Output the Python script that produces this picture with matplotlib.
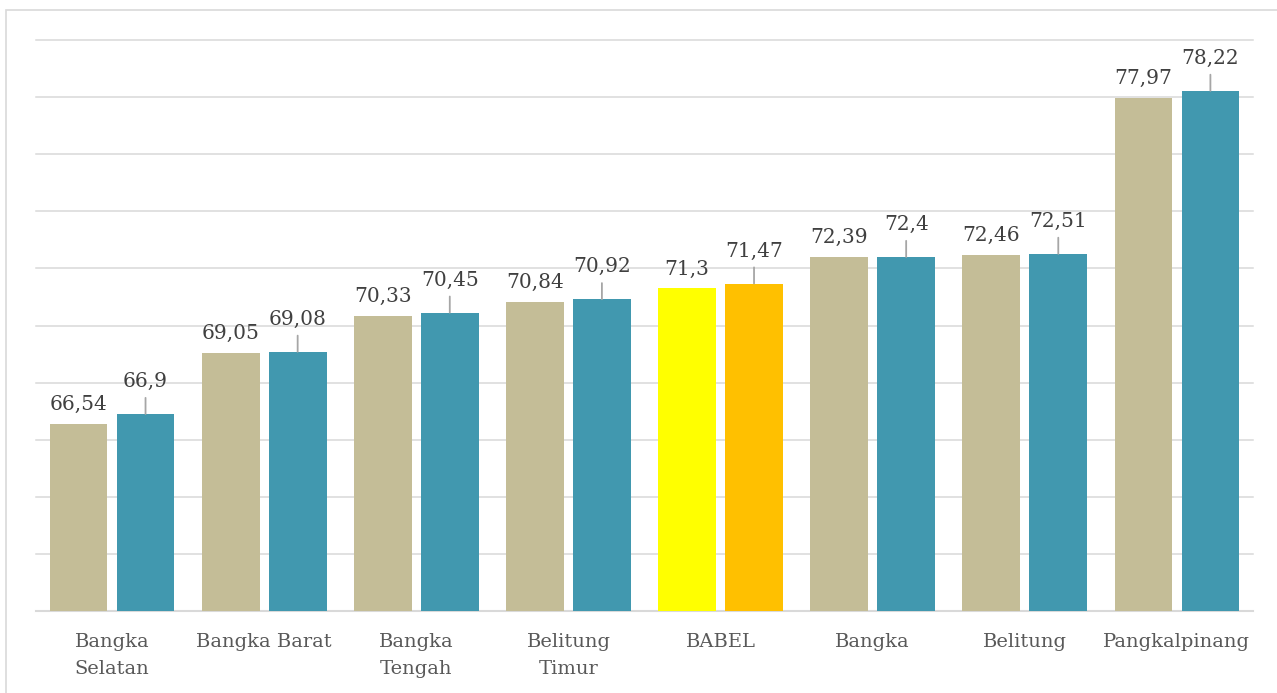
import numpy as np
import matplotlib
matplotlib.use("Agg")
import matplotlib.pyplot as plt
from matplotlib.patches import Rectangle

categories = ["Bangka\nSelatan", "Bangka Barat", "Bangka\nTengah", "Belitung\nTimur",
              "BABEL", "Bangka", "Belitung", "Pangkalpinang"]
series_a = [66.54, 69.05, 70.33, 70.84, 71.30, 72.39, 72.46, 77.97]
series_b = [66.90, 69.08, 70.45, 70.92, 71.47, 72.40, 72.51, 78.22]

tan, teal = "#C4BD97", "#4198AF"
colors_a = [tan] * 8
colors_b = [teal] * 8
colors_a[4] = "#FFFF00"
colors_b[4] = "#FFC000"

def fmt(v):
    s = ("%.2f" % v).rstrip("0").rstrip(".")
    return s.replace(".", ",")

plt.rcParams['font.family'] = ['DejaVu Serif']

fig = plt.figure(figsize=(12.77, 6.93), dpi=100)
ax = fig.add_axes([36 / 1277, 82 / 693, 1217 / 1277, 571 / 693])

# chart border
fig.patches.append(Rectangle((6 / 1277, -0.1), 1.2, 0.1 + 683 / 693, transform=fig.transFigure,
                             fill=False, edgecolor="#D9D9D9", linewidth=1.2))

x = np.arange(len(categories))
w = 0.38
off = 0.22
bars_a = ax.bar(x - off, series_a, w, color=colors_a, zorder=3)
bars_b = ax.bar(x + off, series_b, w, color=colors_b, zorder=3)

ax.set_ylim(60, 80)
ax.set_xlim(-0.5, len(categories) - 0.5)
ax.set_yticks(np.arange(60, 81, 2))
ax.yaxis.grid(True, color="#D9D9D9", linewidth=1.1, zorder=0)
for gl in ax.get_ygridlines():
    gl.set_clip_on(False)
ax.set_yticklabels([])
ax.tick_params(axis='y', length=0)
ax.tick_params(axis='x', length=0, pad=16, labelsize=14, labelcolor="#595959")
ax.set_xticks(x)
ax.set_xticklabels(categories, linespacing=1.65, va='top')
for s in ["top", "right", "left"]:
    ax.spines[s].set_visible(False)
ax.spines["bottom"].set_color("#D9D9D9")
ax.spines["bottom"].set_linewidth(1.5)

for xi, v in zip(x - off, series_a):
    ax.annotate(fmt(v), xy=(xi, v), xytext=(0, 10), textcoords="offset points",
                ha="center", va="baseline", fontsize=14.5, color="#404040")

for xi, v in zip(x + off, series_b):
    ax.annotate(fmt(v), xy=(xi, v), xytext=(0, 19.5), textcoords="offset points",
                ha="center", va="baseline", fontsize=14.5, color="#404040",
                arrowprops=dict(arrowstyle="-", color="#A6A6A6", lw=1.3,
                                shrinkA=3, shrinkB=0))

fig.savefig("out.png", dpi=100)
